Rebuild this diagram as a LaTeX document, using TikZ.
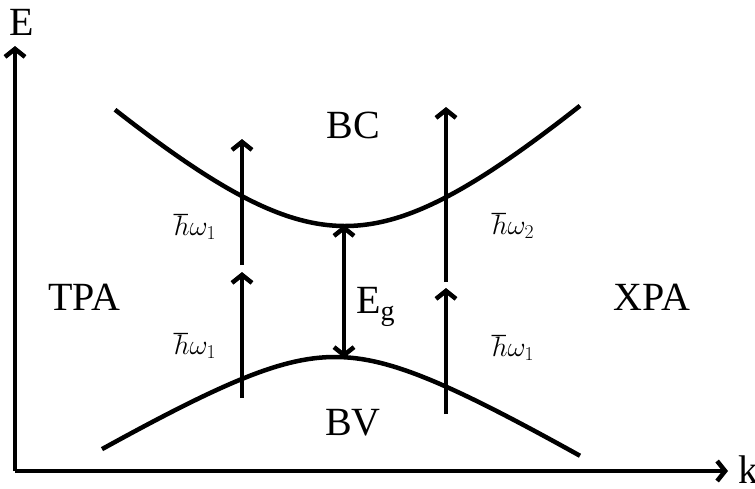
\RequirePackage{fix-cm}
\documentclass[tikz,border=0pt]{standalone}
\usepackage{fontspec}
\setmainfont{Liberation Serif}
\usetikzlibrary{arrows.meta}
\begin{document}
\begin{tikzpicture}[x=1pt,y=-1pt,line width=4.5pt,
  tipend/.style={-{Straight Barb[length=8pt,width=20pt]}},
  both/.style={{Straight Barb[length=8pt,width=20pt]}-{Straight Barb[length=8pt,width=20pt]}},
  big/.style={font=\fontsize{40}{42}\selectfont,inner sep=0pt},
  small/.style={font=\fontsize{28}{30}\selectfont,inner sep=0pt}]
\useasboundingbox (0,0) rectangle (755,488);
% axes
\coordinate (O) at (15,471);
\coordinate (Etip) at (15,46);
\coordinate (ktip) at (728,471);
\draw[tipend] (O) -- (Etip);
\draw[tipend] (O) -- (ktip);
\node[big,anchor=base] (Elab) at (22,35) {E};
\node[big,anchor=base west] (klab) at (736,483) {k};
% bands
\draw plot[domain=115:580,samples=80,smooth] (\x,{226-140*(sqrt(1+((\x-345)/150)^2)-1)});
\draw plot[domain=102:580,samples=80,smooth] (\x,{357+60*(sqrt(1+((\x-335)/100)^2)-1)});
% arrows
\coordinate (l1s) at (242,398); \coordinate (l1e) at (242,272);
\coordinate (l2s) at (242,265); \coordinate (l2e) at (242,139);
\coordinate (r1s) at (446,414); \coordinate (r1e) at (446,288);
\coordinate (r2s) at (446,282); \coordinate (r2e) at (446,107);
\coordinate (gt) at (344,225); \coordinate (gb) at (344,358);
\draw[tipend] (l1s) -- (l1e);
\draw[tipend] (l2s) -- (l2e);
\draw[tipend] (r1s) -- (r1e);
\draw[tipend] (r2s) -- (r2e);
\draw[both] (gb) -- (gt);
% labels
\node[big,anchor=base] (BC) at (353,138) {BC};
\node[big,anchor=base] (BV) at (353,435) {BV};
\node[big,anchor=base] (TPA) at (84,310) {TPA};
\node[big,anchor=base] (XPA) at (652,310) {XPA};
\node[big,anchor=base west] (Eg) at (354,313) {E\raisebox{-0.4ex}{\fontsize{28}{30}\selectfont g}};
\node[small,anchor=base] (w1a) at (195,235) {$\hbar\omega_1$};
\node[small,anchor=base] (w1b) at (195,354) {$\hbar\omega_1$};
\node[small,anchor=base] (w2) at (513,234) {$\hbar\omega_2$};
\node[small,anchor=base] (w1c) at (513,356) {$\hbar\omega_1$};
\end{tikzpicture}
\end{document}
